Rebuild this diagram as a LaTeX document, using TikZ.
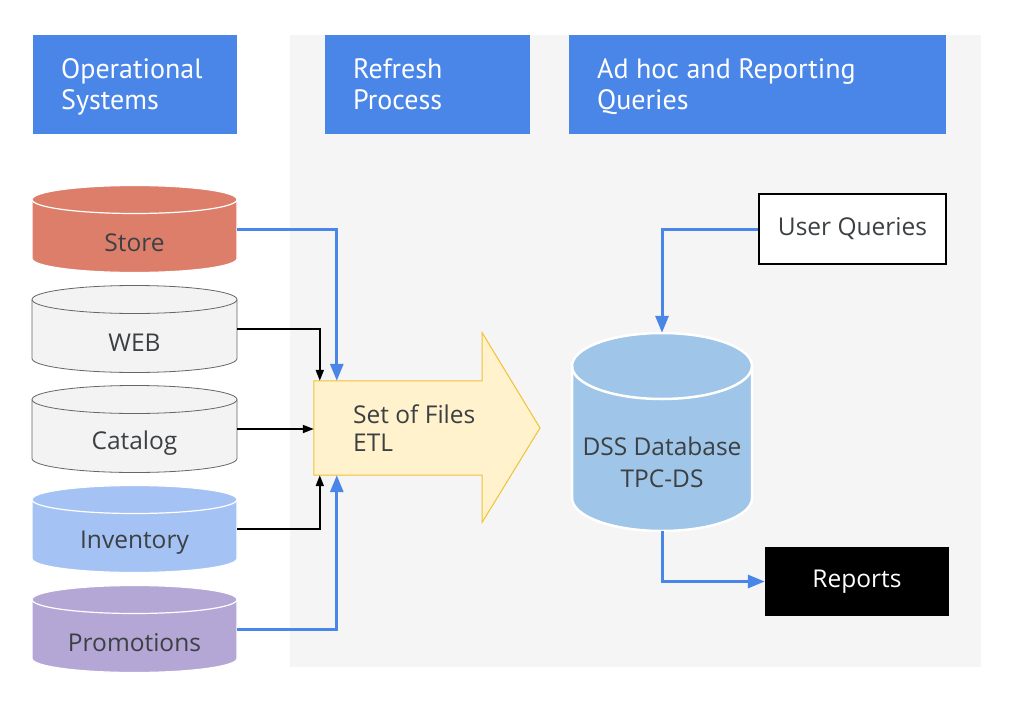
\documentclass[tikz,border=0pt]{standalone}
\usepackage{fontspec}
\setmainfont{Open Sans}
\newfontfamily\hdrfont{PT Sans}
\usetikzlibrary{arrows.meta,calc}
\definecolor{hdrblue}{HTML}{4A86E8}
\definecolor{panelgrey}{HTML}{F5F5F5}
\definecolor{storecol}{HTML}{DD7E6B}
\definecolor{lightgreycol}{HTML}{F3F3F3}
\definecolor{cylgrey}{HTML}{666666}
\definecolor{invcol}{HTML}{A4C2F4}
\definecolor{promocol}{HTML}{B4A7D6}
\definecolor{dsscol}{HTML}{9FC5E8}
\definecolor{etlfill}{HTML}{FFF2CC}
\definecolor{etldraw}{HTML}{F1C232}
\definecolor{txtcol}{HTML}{3C4043}
\newcommand\dbcyl[9]{%
  \node[minimum width=#4pt, minimum height=#5pt, inner sep=0pt, draw=none] (#1) at (#2,#3) {};
  \path[#7] (#2-#4/2,#3+#5/2-#6) -- (#2-#4/2,#3-#5/2+#6)
    arc[start angle=180,end angle=360,x radius=#4/2,y radius=#6]
    -- (#2+#4/2,#3+#5/2-#6)
    arc[start angle=0,end angle=180,x radius=#4/2,y radius=#6] -- cycle;
  \path[#7,fill=none] (#2-#4/2,#3+#5/2-#6)
    arc[start angle=180,end angle=360,x radius=#4/2,y radius=#6];
  \node[bodytext] (#1-label) at (#2,#3-#6+#9) {#8};
}
\begin{document}
\begin{tikzpicture}[x=1pt,y=1pt,
  hdr/.style={fill=hdrblue, anchor=north west, inner sep=0pt, minimum height=99pt},
  hdrtext/.style={text=white, align=left, anchor=west, inner sep=0pt,
    font=\hdrfont\fontsize{28}{31}\selectfont},
  bodytext/.style={text=txtcol, align=center, inner sep=0pt,
    font=\fontsize{24.5}{28}\selectfont},
  greycyl/.style={fill=lightgreycol, draw=cylgrey, line width=0.8pt},
  storecyl/.style={fill=storecol, draw=white, line width=1.2pt},
  invcyl/.style={fill=invcol, draw=white, line width=1.2pt},
  promocyl/.style={fill=promocol, draw=white, line width=1.2pt},
  dsscyl/.style={fill=dsscol, draw=white, line width=2.5pt},
  blueline/.style={draw=hdrblue, line width=3pt, -{Triangle[length=17pt,width=13pt]}},
  blackline/.style={draw=black, line width=1.8pt, -{Triangle[length=11pt,width=8pt]}},
]
\useasboundingbox[fill=white] (0,0) rectangle (1020,-720);
\fill[panelgrey] (290,-35) rectangle (981,-667);

% headers
\node[hdr, minimum width=204pt] (h1) at (33,-35) {};
\node[hdrtext] (h1t) at ([xshift=28pt,yshift=-3pt]h1.west) {\strut Operational\\Systems\strut};
\node[hdr, minimum width=205pt] (h2) at (325,-35) {};
\node[hdrtext] (h2t) at ([xshift=28pt,yshift=-3pt]h2.west) {\strut Refresh\\Process\strut};
\node[hdr, minimum width=377pt] (h3) at (569,-35) {};
\node[hdrtext] (h3t) at ([xshift=28pt,yshift=-3pt]h3.west) {\strut Ad hoc and Reporting\\Queries\strut};

% source cylinders
\dbcyl{store}{134.5}{-229}{205}{87}{14}{storecyl}{Store}{0}
\dbcyl{web}{134.5}{-329}{205}{87}{14}{greycyl}{WEB}{0}
\dbcyl{catalog}{134.5}{-429}{205}{87}{14}{greycyl}{Catalog}{0}
\dbcyl{inventory}{134.5}{-529}{205}{87}{14}{invcyl}{Inventory}{0}
\dbcyl{promotions}{134.5}{-629}{205}{87}{14}{promocyl}{Promotions}{0}

% ETL arrow
\node[minimum width=168pt, minimum height=94pt, inner sep=0pt] (etl) at (398,-428) {};
\coordinate (etltip) at (540,-428);
\draw[fill=etlfill, draw=etldraw, line width=1pt]
  (etl.north west) -- (etl.north east) -- ++(0,48) -- (etltip)
  -- ($(etl.south east)+(0,-47)$) -- (etl.south east) -- (etl.south west) -- cycle;
\node[bodytext, align=left, anchor=west] (etltext) at (353,-428) {Set of Files\\ETL};

% DSS database
\dbcyl{dss}{662}{-432}{180}{198}{33}{dsscyl}{DSS Database\\[4pt]TPC-DS}{3}

% user queries and reports
\node[draw=black, line width=1.5pt, fill=white, minimum width=187pt, minimum height=70pt,
  bodytext] (uq) at (852.5,-229) {User Queries};
\node[fill=black, minimum width=184pt, minimum height=69pt, bodytext, text=white]
  (rep) at (857,-581.5) {Reports};

% connectors
\draw[blueline] (store.east) -| ([xshift=23pt]etl.north west);
\draw[blackline] (web.east) -| ([xshift=6pt]etl.north west);
\draw[blackline] (catalog.east) -- (catalog.east -| etl.west);
\draw[blackline] (inventory.east) -| ([xshift=6pt]etl.south west);
\draw[blueline] (promotions.east) -| ([xshift=23pt]etl.south west);
\draw[blueline] (uq.west) -| (dss.north);
\draw[blueline] (dss.south) |- (rep.west);
\end{tikzpicture}
\end{document}
